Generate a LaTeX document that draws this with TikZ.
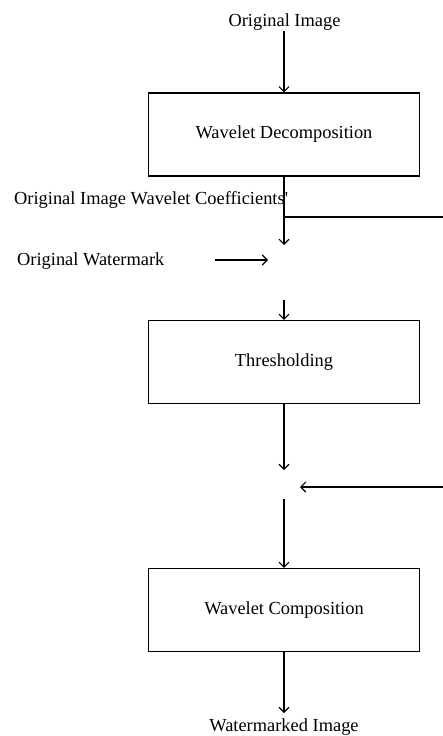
\documentclass[tikz,border=0pt]{standalone}
\usepackage{fontspec}
\setmainfont{Liberation Serif}
\usetikzlibrary{arrows.meta}
\begin{document}
\begin{tikzpicture}[x=1pt,y=-1pt,
  every node/.style={font=\fontsize{18.4}{22}\selectfont},
  blockbox/.style={draw,line width=1.2pt,minimum width=271pt,minimum height=83pt,inner sep=0pt},
  lbl/.style={inner sep=0pt},
  conn/.style={line width=1.1pt},
  arr/.style={conn,-{Straight Barb[length=5pt,width=10pt,line width=1.1pt]}}]
\useasboundingbox (0,0) rectangle (443,736);
% blocks
\node[blockbox] (b1) at (284,134.5) {Wavelet Decomposition};
\node[blockbox] (b2) at (284,362) {Thresholding};
\node[blockbox] (b3) at (284,610) {Wavelet Composition};
% labels
\node[lbl,anchor=base] (oi) at (284.5,27) {Original Image};
\node[lbl,anchor=base west] (coef) at (14,204) {Original Image Wavelet Coefficients\textquotesingle};
\node[lbl,anchor=base west] (wm) at (17,265) {Original Watermark};
\node[lbl,anchor=base] (wi) at (284,731) {Watermarked Image};
% free ends
\coordinate (c1) at (284,245);
\coordinate (h1a) at (284,217);
\coordinate (h1b) at (443,217);
\coordinate (w1) at (215,260);
\coordinate (w2) at (268,260);
\coordinate (c2) at (284,300);
\coordinate (c3) at (284,470);
\coordinate (k1) at (443,487);
\coordinate (k2) at (300,487);
\coordinate (c6) at (284,499);
% connectors
\draw[arr] (oi.south -| b1.north) -- (b1.north);
\draw[arr] (b1.south) -- (c1);
\draw[conn] (h1a) -- (h1b);
\draw[arr] (w1) -- (w2);
\draw[arr] (c2) -- (b2.north);
\draw[arr] (b2.south) -- (c3);
\draw[arr] (k1) -- (k2);
\draw[arr] (c6) -- (b3.north);
\draw[arr] (b3.south) -- ([yshift=5pt]wi.north -| b3.south);
\end{tikzpicture}
\end{document}
